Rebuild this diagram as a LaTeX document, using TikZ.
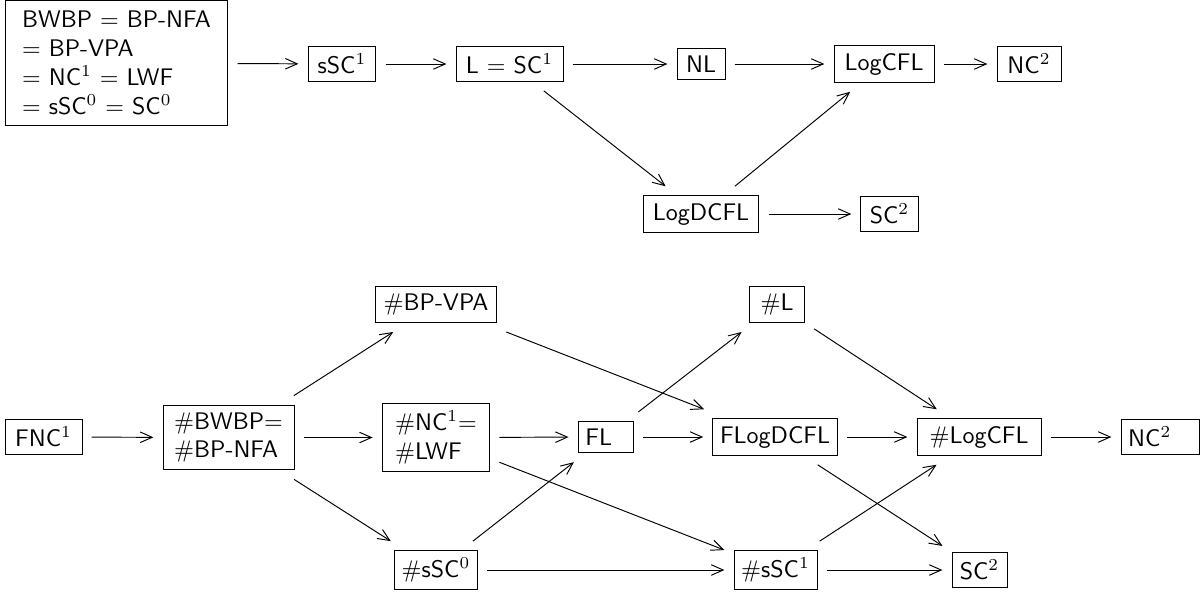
\documentclass[tikz,border=0pt]{standalone}
\usepackage{amsmath,amssymb}
\usepackage{tikz}
\usetikzlibrary{arrows.meta,positioning}
\renewcommand{\familydefault}{\sfdefault}

\begin{document}
\begin{tikzpicture}[
    x=0.4167pt, y=-0.4167pt,
    cls/.style={draw, line width=0.4pt, inner sep=3pt, outer sep=4pt},
    incl/.style={-{Straight Barb[length=5pt,width=4.4pt]}, line width=0.4pt}
]
    \useasboundingbox (0,0) rectangle (1202,594);

    \node[cls, align=left, inner xsep=7pt, minimum width=92.9pt, minimum height=51.7pt] (bwbp) at (116.5,63) {
        BWBP $=$ BP-NFA\\
        $=$ BP-VPA\\
        $=$ NC$^1$ $=$ LWF\\
        $=$ sSC$^0$ $=$ SC$^0$
    };
    \node[cls, minimum width=28.3pt] (ssc1) at (342,64) {sSC$^1$};
    \node[cls, minimum width=44.6pt] (lsc1) at (509.5,64) {L $=$ SC$^1$};
    \node[cls, minimum width=20pt] (nl) at (701,64) {NL};
    \node[cls, minimum width=41.7pt] (logcfl) at (884,64) {LogCFL};
    \node[cls, minimum width=26.7pt] (nc2) at (1029,64) {NC$^2$};
    \node[cls, minimum width=48.3pt] (logdcfl) at (701,214) {LogDCFL};
    \node[cls, minimum width=23.8pt] (sc2) at (889.5,214) {SC$^2$};

    \draw[incl] (bwbp) -- (ssc1);
    \draw[incl] (ssc1) -- (lsc1);
    \draw[incl] (lsc1) -- (nl);
    \draw[incl] (nl) -- (logcfl);
    \draw[incl] (logcfl) -- (nc2);
    \draw[incl] (lsc1) -- (logdcfl);
    \draw[incl] (logdcfl) -- (logcfl);
    \draw[incl] (logdcfl) -- (sc2);

    \node[cls, minimum width=32.1pt] (fnc1) at (43.5,437) {FNC$^1$};
    \node[cls, align=left, minimum width=54.6pt] (cbwbp) at (228.5,437.5) {$\#$BWBP$=$\\$\#$BP-NFA};
    \node[cls, minimum width=50.8pt] (cvpa) at (436,304.5) {$\#$BP-VPA};
    \node[cls, align=left, minimum width=44.8pt] (cnc1) at (436,437.5) {$\#$NC$^1$$=$\\$\#$LWF};
    \node[cls, text width=17.2pt, align=left] (fl) at (606,437) {FL};
    \node[cls, minimum width=51.7pt] (flogdcfl) at (775,437) {FLogDCFL};
    \node[cls, minimum width=22.9pt] (cl) at (777,304.5) {$\#$L};
    \node[cls, minimum width=51.7pt] (clogcfl) at (979,437) {$\#$LogCFL};
    \node[cls, text width=26.5pt, align=left] (fnc2) at (1160,437) {NC$^2$};
    \node[cls, minimum width=32.1pt] (cssc0) at (436,570) {$\#$sSC$^0$};
    \node[cls, minimum width=32.1pt] (cssc1) at (775.5,570) {$\#$sSC$^1$};
    \node[cls, minimum width=22.9pt] (fsc2) at (979.5,570) {SC$^2$};

    \draw[incl] (fnc1) -- (cbwbp);
    \draw[incl] (cbwbp) -- (cvpa);
    \draw[incl] (cbwbp) -- (cnc1);
    \draw[incl] (cbwbp) -- (cssc0);
    \draw[incl] (cvpa) -- (flogdcfl);
    \draw[incl] (cnc1) -- (fl);
    \draw[incl] (cnc1) -- (cssc1);
    \draw[incl] (cssc0) -- (fl);
    \draw[incl] (cssc0) -- (cssc1);
    \draw[incl] (fl) -- (cl);
    \draw[incl] (fl) -- (flogdcfl);
    \draw[incl] (cl) -- (clogcfl);
    \draw[incl] (flogdcfl) -- (clogcfl);
    \draw[incl] (flogdcfl) -- (fsc2);
    \draw[incl] (cssc1) -- (clogcfl);
    \draw[incl] (cssc1) -- (fsc2);
    \draw[incl] (clogcfl) -- (fnc2);
\end{tikzpicture}
\end{document}
